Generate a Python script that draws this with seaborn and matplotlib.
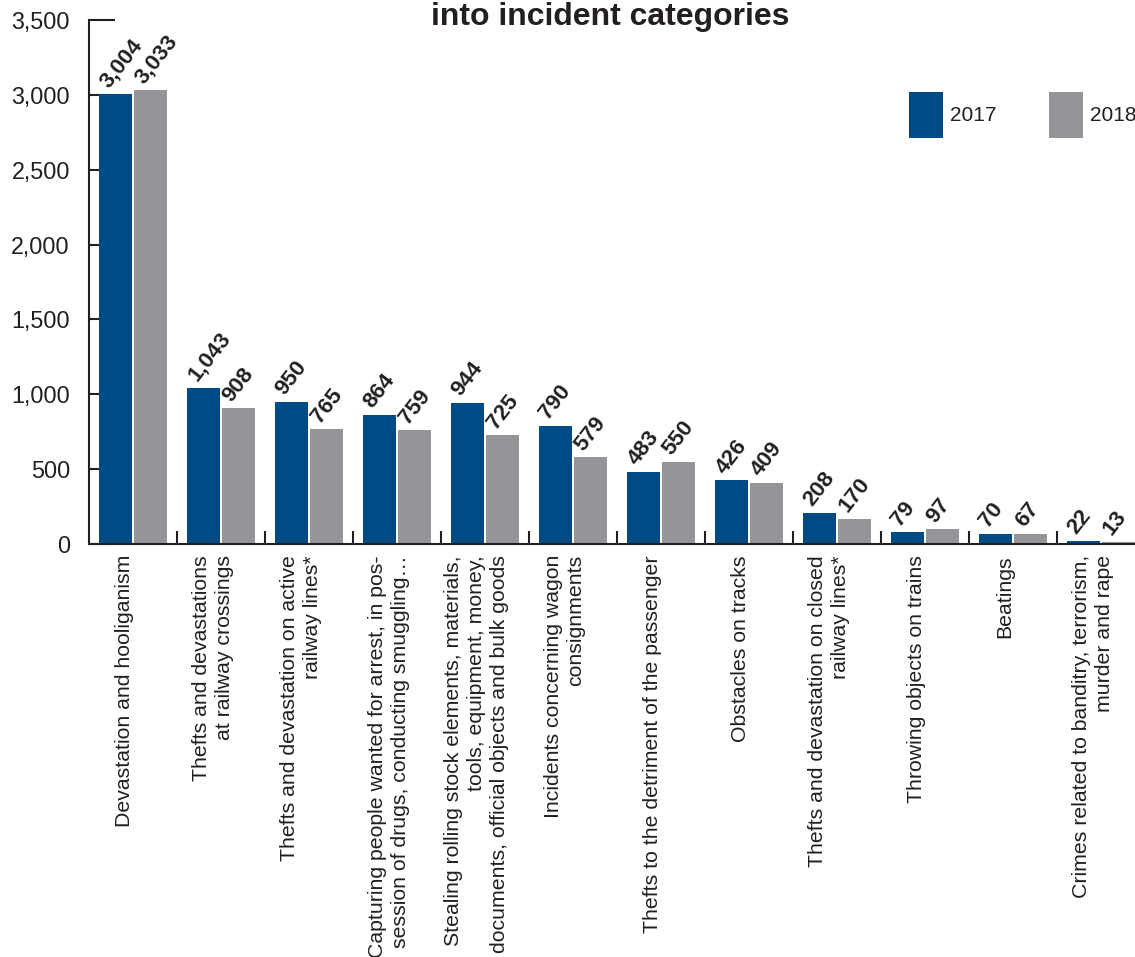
import matplotlib
matplotlib.use("Agg")
import matplotlib.pyplot as plt
import matplotlib.transforms as mtransforms
import seaborn as sns
import pandas as pd
import numpy as np

categories = [
    "Devastation and hooliganism",
    "Thefts and devastations\nat railway crossings",
    "Thefts and devastation on active\nrailway lines*",
    "Capturing people wanted for arrest, in pos-\nsession of drugs, conducting smuggling…",
    "Stealing rolling stock elements, materials,\ntools, equipment, money,\ndocuments, official objects and bulk goods",
    "Incidents concerning wagon\nconsignments",
    "Thefts to the detriment of the passenger",
    "Obstacles on tracks",
    "Thefts and devastation on closed\nrailway lines*",
    "Throwing objects on trains",
    "Beatings",
    "Crimes related to banditry, terrorism,\nmurder and rape",
]
values_2017 = [3004, 1043, 950, 864, 944, 790, 483, 426, 208, 79, 70, 22]
values_2018 = [3033, 908, 765, 759, 725, 579, 550, 409, 170, 97, 67, 13]
years = ["2017", "2018"]
y_ticks = [0, 500, 1000, 1500, 2000, 2500, 3000, 3500]

df = pd.DataFrame({
    "category": categories * 2,
    "year": [years[0]] * len(categories) + [years[1]] * len(categories),
    "value": values_2017 + values_2018,
})

sns.set_theme(style="white")
plt.rcParams["font.family"] = ["Liberation Sans", "DejaVu Sans"]
TXT = "#231f20"
W, H = 1135, 957
fig = plt.figure(figsize=(W / 100, H / 100), dpi=100)
ax = fig.add_axes([89 / W, (H - 544) / H, (1145 - 89) / W, 524 / H])

sns.barplot(data=df, x="category", y="value", hue="year", order=categories,
            hue_order=years, palette=["#004b85", "#939598"], width=0.8, gap=0.085,
            linewidth=0, saturation=1, ax=ax)

ax.set_xlim(-0.5, len(categories) - 0.5)
ax.set_ylim(0, 3500)
ax.set_yticks(y_ticks)
ax.set_yticklabels([f"{v:,}" for v in y_ticks])
ax.set_xlabel("")
ax.set_ylabel("")
for s in ["top", "right"]:
    ax.spines[s].set_visible(False)
for s in ["left", "bottom"]:
    ax.spines[s].set_linewidth(1.5)
    ax.spines[s].set_color(TXT)

ax.tick_params(axis="y", direction="in", length=18.7, width=1.5, color=TXT,
               labelsize=16.8, labelcolor=TXT, pad=13.7, left=True)
ax.tick_params(axis="x", which="major", length=0, labelsize=15.3, labelcolor=TXT, pad=8,
               bottom=True)
ax.set_xticks(np.arange(0.5, len(categories) - 0.5, 1), minor=True)
ax.tick_params(axis="x", which="minor", direction="in", length=9.4, width=1.5, color=TXT,
               bottom=True)
offset = mtransforms.ScaledTranslation(-6 / 72, 0, fig.dpi_scale_trans)
for lab in ax.get_xticklabels():
    lab.set_rotation(90)
    lab.set_ha("center")
    lab.set_va("top")
    lab.set_multialignment("right")
    lab.set_linespacing(1.25)
    lab.set_transform(lab.get_transform() + offset)

for cont in ax.containers:
    for p in cont.patches:
        h = p.get_height()
        ax.annotate(f"{int(round(h)):,}", xy=(p.get_x() + p.get_width() / 2, h),
                    xytext=(-5, 4), textcoords="offset points", rotation=52,
                    rotation_mode="anchor", ha="left", va="baseline",
                    fontsize=16, fontweight="bold", color=TXT)

sns.move_legend(ax, loc="upper left", bbox_to_anchor=(909 / W, 1 - 92 / H),
                bbox_transform=fig.transFigure, ncol=2, frameon=False, title=None,
                handlelength=1.63, handleheight=3.0, handletextpad=0.35,
                columnspacing=2.5, borderpad=0, borderaxespad=0, fontsize=15)
for t in ax.get_legend().get_texts():
    t.set_color(TXT)

fig.text(610 / W, 1 - 25 / H, "into incident categories", ha="center", va="baseline",
         fontsize=23, fontweight="bold", color=TXT)

fig.savefig("out.png", dpi=100)
